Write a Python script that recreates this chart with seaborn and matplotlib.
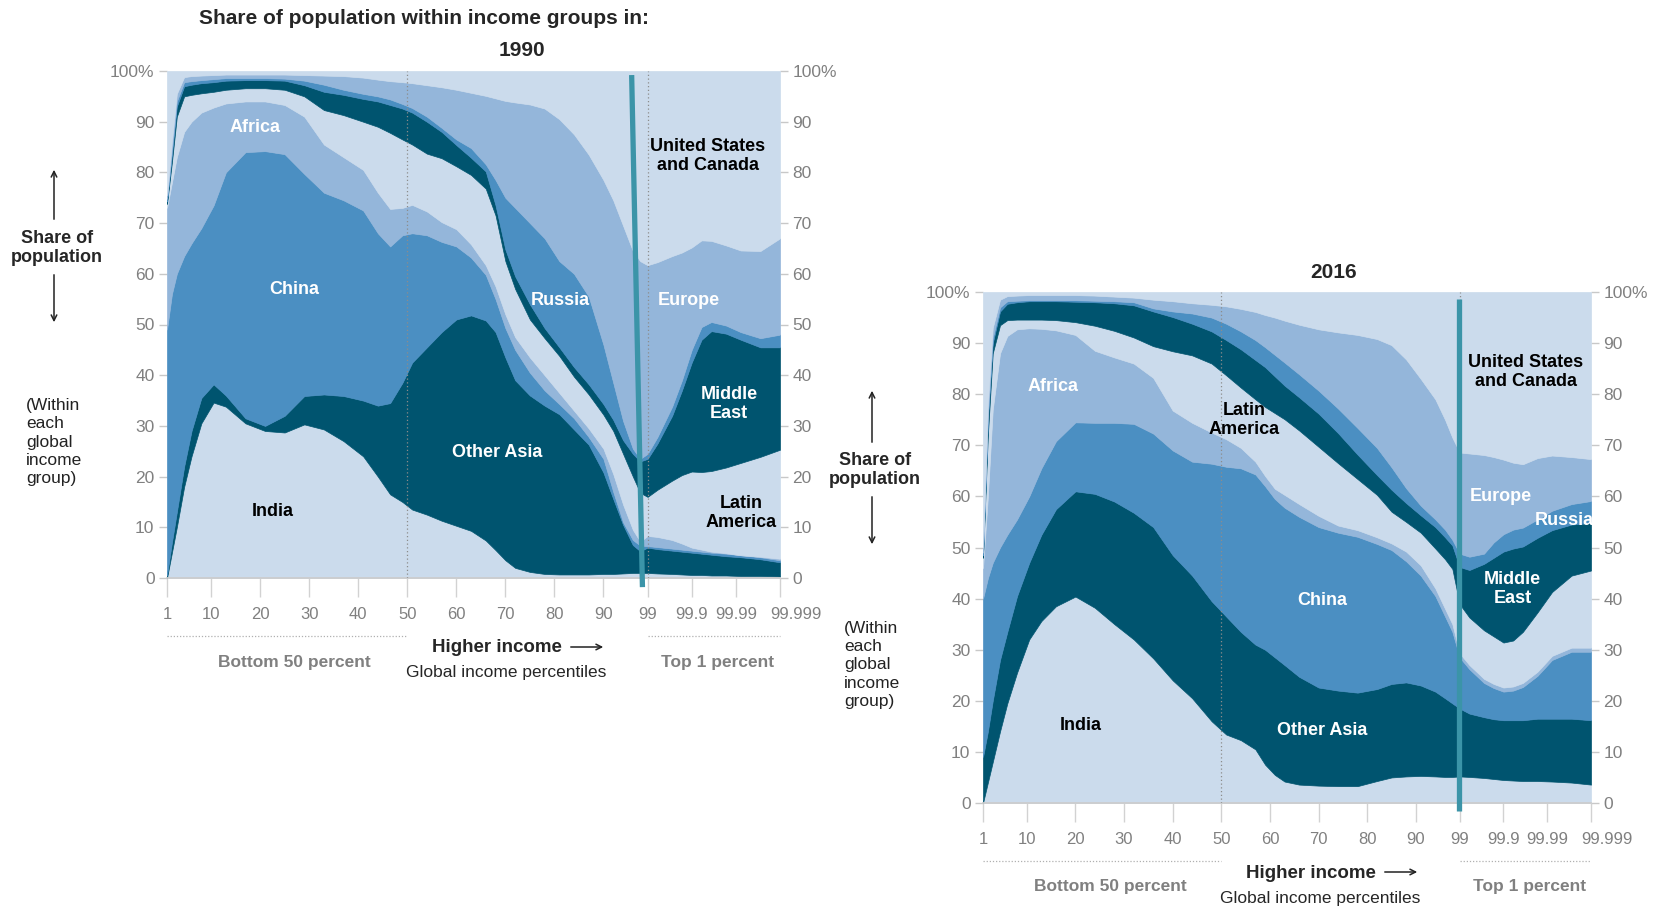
import matplotlib
matplotlib.use("Agg")
import matplotlib.pyplot as plt
import matplotlib.transforms as mtransforms
import seaborn as sns

sns.set_theme(style="white")
plt.rcParams['font.family'] = ['Liberation Sans Narrow', 'Liberation Sans', 'DejaVu Sans']

W, H = 1657, 910

# x axis: percentiles 1..99, then the top 1% is split again in tenths:
# 99.1..99.9 -> 100..108, 99.91..99.99 -> 109..117, 99.991..99.999 -> 118..126
tick_pos = [1, 10, 20, 30, 40, 50, 60, 70, 80, 90, 99, 108, 117, 126]
tick_labels = ['1', '10', '20', '30', '40', '50', '60', '70', '80', '90',
               '99', '99.9', '99.99', '99.999']

regions = ['India', 'Other Asia', 'China', 'Africa', 'Latin America',
           'Middle East', 'Russia', 'Europe', 'United States and Canada']
light, mid_light, mid, dark = '#cbdbec', '#94b6da', '#4b8fc2', '#00546f'
region_colors = [light, dark, mid, mid_light, light, dark, mid, mid_light, light]

# 1990 - top edge of each band (cumulative share of population, %)
x_1990 = [1, 2, 3, 4.5, 6, 8, 10.5, 13, 17, 21,
          25, 29, 33, 37, 41, 44, 46.5, 49, 51, 54,
          57, 60, 63, 66, 68, 70, 72, 75, 78, 81,
          84, 87, 90, 92, 94, 96, 97.5,
          99, 101, 104, 106, 108, 110, 112, 115, 118, 122, 126]
india_1990 = [0, 5, 10, 18, 24, 30.5, 34.6, 33.8, 30.5, 29,
              28.7, 30.3, 29.3, 27, 24, 20, 16.5, 15, 13.5, 12.5,
              11.3, 10.3, 9.3, 7.4, 5.5, 3.5, 2, 1.2, 0.8, 0.7,
              0.7, 0.7, 0.8, 0.8, 0.9, 1.0, 1.0,
              1.0, 0.9, 0.8, 0.7, 0.6, 0.6, 0.5, 0.5, 0.4, 0.4, 0.3]
other_asia_1990 = [0.5, 7, 13, 22, 29, 35.5, 38.2, 36, 31.5, 30,
                   32, 35.9, 36.2, 35.9, 35, 34, 34.5, 38.5, 42.5, 45.5,
                   48.5, 51, 51.8, 50.8, 48.5, 43.5, 39, 36, 34, 32.3,
                   29.3, 26.3, 20.8, 15.6, 10.5, 6.5, 5.3,
                   6.0, 5.7, 5.4, 5.2, 5.0, 4.8, 4.6, 4.3, 4.1, 3.7, 3.1]
china_1990 = [49, 56, 60, 63.5, 66, 69, 73.5, 80, 84, 84.2,
              83.6, 79.7, 76, 74.5, 72.5, 68, 65.4, 67.6, 68, 67.6,
              66.3, 65.4, 63.2, 59.8, 55, 49.3, 45, 40.5, 37, 34.3,
              31.5, 27.8, 23.5, 17, 11, 7.5, 6.4,
              6.3, 6.1, 5.8, 5.6, 5.4, 5.2, 5.0, 4.8, 4.5, 4.1, 3.5]
africa_1990 = [73, 78, 83, 88, 90, 91.8, 92.8, 93.6, 94, 94,
               93.3, 91, 85.5, 83, 80.5, 76, 72.8, 73, 73.6, 72.3,
               70.2, 68.8, 65.8, 61.7, 57.5, 52, 47.5, 43.5, 40, 36.5,
               33, 29.5, 25.5, 20.5, 14.5, 9.5, 7.2,
               8.3, 8.1, 7.5, 6.8, 6.0, 5.6, 5.2, 4.9, 4.5, 4.2, 3.8]
latin_america_1990 = [73.8, 82, 91, 95, 95.3, 95.6, 95.9, 96.3, 96.6, 96.6,
                      96.3, 95, 92.3, 91.3, 90, 89, 87.8, 86.5, 85.5, 83.7,
                      82.8, 81.2, 79.5, 76.8, 71.5, 62.5, 57, 51, 47.3, 43.8,
                      39.7, 36.2, 32.2, 29, 24.5, 20, 16.8,
                      16, 17.4, 19.2, 20.3, 21, 20.9, 21.1, 21.8, 22.7, 23.9, 25.3]
middle_east_1990 = [74.3, 83.5, 93, 97, 97.3, 97.6, 97.8, 98.1, 98.2, 98.2,
                    98.1, 97.2, 95.9, 95.3, 94.5, 94, 93.3, 92.6, 91.8, 90,
                    88, 85.4, 82.9, 80.2, 73.5, 64.8, 59.5, 54, 49.3, 45.5,
                    41.6, 38.2, 34.3, 31.2, 27.2, 24.5, 23,
                    23.5, 26.5, 32, 37, 42.5, 47, 48.7, 48.2, 47, 45.5, 45.5]
russia_1990 = [74.8, 84.5, 94, 97.8, 98, 98.2, 98.4, 98.6, 98.6, 98.6,
               98.5, 98.1, 97.3, 96.3, 95.5, 95, 94.4, 93.5, 92.7, 91,
               88.8, 86.5, 84.8, 81.6, 78.5, 75, 73, 70, 67, 62.5,
               60, 55.5, 46, 38.5, 31, 25.5, 23.5,
               24.5, 27.8, 33.8, 39, 45, 49.5, 50.5, 49.8, 48.5, 47.3, 48]
europe_1990 = [75.5, 86, 95.5, 98.8, 99, 99.1, 99.2, 99.3, 99.3, 99.3,
               99.3, 99.2, 99.1, 99, 98.7, 98.3, 98, 97.8, 97.6, 97.2,
               96.8, 96.3, 95.7, 95.1, 94.6, 94.1, 93.8, 93.4, 92.6, 90.5,
               87.5, 83.5, 78.5, 74.5, 69.5, 64.5, 62.5,
               61.7, 62.3, 63.5, 64.2, 65.2, 66.6, 66.5, 65.6, 64.6, 64.5, 67]
us_canada_1990 = [100] * len(x_1990)

# 2016
x_2016 = [1, 2, 3, 4.5, 6, 8, 10.5, 13, 16, 20,
          24, 28, 32, 36, 40, 44, 48, 51, 54, 57,
          59, 61, 63, 66, 70, 74, 78, 82, 85, 88,
          91, 94, 96, 97.5,
          99, 101, 104, 106, 108, 110, 112, 115, 118, 122, 126]
india_2016 = [0, 4, 8, 14, 19.5, 25.5, 32, 35.6, 38.5, 40.4,
              38.2, 35, 32, 28.3, 24, 20.5, 16, 13.4, 12.3, 10.5,
              7.5, 5.5, 4.2, 3.6, 3.4, 3.3, 3.3, 4.3, 5.0, 5.2,
              5.3, 5.2, 5.1, 5.1,
              5.2, 5.1, 4.9, 4.7, 4.5, 4.4, 4.3, 4.3, 4.2, 4.0, 3.6]
other_asia_2016 = [9, 14, 20, 28, 33.5, 40.5, 47, 52.5, 57.5, 61,
                   60.5, 59, 56.8, 54, 48.5, 44.5, 39.5, 36.5, 33.5, 31,
                   30, 28.5, 27, 24.7, 22.6, 22, 21.6, 22.3, 23.3, 23.6,
                   23, 21.8, 20.5, 19.5,
                   18.5, 17.5, 16.8, 16.4, 16.2, 16.2, 16.2, 16.5, 16.5, 16.5, 16.2]
china_2016 = [40, 44, 47, 50, 52.5, 55.5, 60, 65.5, 70.8, 74.5,
              74.4, 74.4, 74.2, 72.3, 69, 66.8, 66.4, 65.8, 65.5, 64.3,
              62, 59.5, 57.8, 56, 54, 52.9, 52.1, 50.7, 49.5, 47.3,
              44.5, 40.5, 36.5, 33.5,
              28.5, 26.2, 23.5, 22.5, 21.8, 22, 22.7, 24.9, 28, 29.6, 29.6]
africa_2016 = [46, 60, 77, 88, 91.4, 92.7, 92.9, 92.8, 92.5, 91.6,
               88.5, 87.2, 86, 83.2, 76.8, 74.4, 72.5, 71.2, 69.5, 66.8,
               64, 61.5, 60.3, 58.5, 56.2, 54.3, 53.4, 52, 50.8, 49.2,
               46.5, 42, 38, 35,
               29.3, 27, 24.3, 23.3, 22.6, 22.8, 23.5, 25.7, 28.8, 30.4, 30.4]
latin_america_2016 = [48, 72, 88, 93.5, 94.5, 94.6, 94.6, 94.6, 94.5, 94.1,
                      93.4, 92.4, 91.1, 89.4, 88.4, 87.6, 86, 83.7, 81.3, 79,
                      77.5, 76.3, 75.1, 72.9, 69.7, 66.5, 63.4, 60.3, 57, 55,
                      52.9, 49.8, 47.7, 45.8,
                      38.9, 36.3, 33.8, 32.6, 31.4, 31.8, 33.5, 37.3, 41.3, 44.5, 45.5]
middle_east_2016 = [48.5, 75, 90, 96.2, 97.7, 98, 98.2, 98.2, 98.2, 98.1,
                    98, 97.8, 97.4, 96.2, 95.1, 93.8, 92.3, 90.6, 88.8, 86.7,
                    85.3, 83.5, 81.7, 79.4, 76.2, 72.4, 68.2, 64.2, 61.3, 58.7,
                    56.3, 54, 52, 50.4,
                    46.2, 45.6, 46.8, 48, 49.2, 49.8, 50.2, 51.9, 53.4, 54.5, 54.8]
russia_2016 = [49, 76, 91, 97, 98.2, 98.3, 98.4, 98.4, 98.4, 98.4,
               98.3, 98.2, 98, 96.8, 96.2, 95.8, 95, 93.8, 92.3, 90.6,
               89.2, 87.7, 86.2, 83.9, 80.7, 77.2, 73.4, 69.5, 65.7, 61.6,
               58.2, 55.5, 53.5, 51.5,
               48.8, 48.2, 48.8, 51, 52.6, 53.5, 53.9, 55.5, 57.2, 58.5, 59.1]
europe_2016 = [50, 78, 93, 98.5, 99.2, 99.3, 99.4, 99.4, 99.4, 99.4,
               99.3, 99.1, 98.9, 98.5, 98.2, 97.8, 97.5, 97.2, 96.7, 96.1,
               95.5, 95, 94.4, 93.6, 92.7, 92.1, 91.6, 90.8, 89.6, 86.8,
               83, 79, 75, 71.5,
               68.6, 68.4, 68.1, 67.7, 67.2, 66.6, 66.3, 67.5, 68, 67.7, 67.3]
us_canada_2016 = [100] * len(x_2016)

tops_1990 = [india_1990, other_asia_1990, china_1990, africa_1990, latin_america_1990,
             middle_east_1990, russia_1990, europe_1990, us_canada_1990]
tops_2016 = [india_2016, other_asia_2016, china_2016, africa_2016, latin_america_2016,
             middle_east_2016, russia_2016, europe_2016, us_canada_2016]

# region names written on the chart: (text, x, y, colour)
names_1990 = [('Africa', 19, 88.8, 'white'), ('China', 27, 56.9, 'white'),
              ('India', 22.6, 13.2, 'black'), ('Other Asia', 68.3, 24.8, 'white'),
              ('Russia', 81.3, 54.7, 'white'), ('Europe', 107.4, 54.7, 'white'),
              ('United States\nand Canada', 111.3, 83.3, 'black'),
              ('Middle\nEast', 115.6, 34.3, 'white'), ('Latin\nAmerica', 118, 12.8, 'black')]
names_2016 = [('Africa', 15.5, 81.5, 'white'), ('Latin\nAmerica', 54.7, 74.9, 'black'),
              ('China', 70.7, 39.6, 'white'), ('India', 21.1, 15.1, 'black'),
              ('Other Asia', 70.7, 14.2, 'white'), ('United States\nand Canada', 112.6, 84.4, 'black'),
              ('Europe', 107.5, 60, 'white'), ('Russia', 120.6, 55.3, 'white'),
              ('Middle\nEast', 109.9, 41.8, 'white')]

fig = plt.figure(figsize=(W / 100, H / 100), dpi=100)
ax1 = fig.add_axes([167 / W, 1 - 578 / H, 613 / W, 507 / H])
ax2 = fig.add_axes([983 / W, 1 - 803 / H, 608 / W, 511 / H])


def draw_panel(ax, x, tops, names, teal):
    lower = [0] * len(x)
    for top, color in zip(tops, region_colors):
        ax.fill_between(x, lower, top, color=color, lw=0.5, edgecolor=color, zorder=1)
        lower = top
    for xv in (50, 99):
        ax.axvline(xv, color='#8c8c8c', ls=(0, (1, 2)), lw=0.9, zorder=3)
    ax.plot(teal[0], teal[1], color='#3b94a8', lw=3.8, solid_capstyle='butt',
            clip_on=False, zorder=5)
    for txt, tx, ty, c in names:
        ax.text(tx, ty, txt, ha='center', va='center', color=c, fontsize=13,
                fontweight='bold', linespacing=1.15, zorder=6)
    ax.set_xlim(1, 126)
    ax.set_ylim(0, 100)
    ax.set_xticks(tick_pos)
    ax.set_xticklabels(tick_labels)
    ax.set_yticks(range(0, 101, 10))
    ax.set_yticklabels([str(v) for v in range(0, 100, 10)] + ['100%'])
    ax.tick_params(axis='x', bottom=True, length=14, width=1, color='#d2d2d2',
                   labelcolor='#808080', labelsize=12, pad=7)
    ax.tick_params(axis='y', left=True, right=True, labelleft=True, labelright=True,
                   length=6, width=1, color='#c8c8c8', labelcolor='#808080',
                   labelsize=12.5, pad=3)
    # the last label sits a little right of its tick, as in the original
    last = ax.get_xticklabels()[-1]
    last.set_transform(last.get_transform() +
                       mtransforms.ScaledTranslation(16 / 100, 0, fig.dpi_scale_trans))
    sns.despine(ax=ax, left=True, right=True, top=True)
    ax.spines['bottom'].set_color('#cccccc')
    ax.grid(False)

    # dotted brackets under the axis
    tr = mtransforms.blended_transform_factory(ax.transData, ax.transAxes)
    for x0, x1 in ((1, 50), (99, 126)):
        ax.plot([x0, x1], [-0.114, -0.114], transform=tr, color='#b0b0b0',
                ls=(0, (1, 1.5)), lw=0.9, clip_on=False)


draw_panel(ax1, x_1990, tops_1990, names_1990, ([95.75, 97.95], [99.2, -1.8]))
draw_panel(ax2, x_2016, tops_2016, names_2016, ([98.9, 98.9], [98.7, -1.6]))


def ftext(x, y, s, **kw):
    fig.text(x / W, 1 - y / H, s, **kw)


def farrow(x, y0, y1):
    fig.add_artist(matplotlib.patches.FancyArrowPatch(
        (x / W, 1 - y0 / H), (x / W, 1 - y1 / H), transform=fig.transFigure,
        arrowstyle='->', mutation_scale=10, lw=1.1, color='#222222'))


ftext(424, 19, 'Share of population within income groups in:', ha='center', va='center',
      fontsize=15, fontweight='bold')
ftext(522, 51, '1990', ha='center', va='center', fontsize=15, fontweight='bold')
ftext(1334, 272, '2016', ha='center', va='center', fontsize=15, fontweight='bold')

# y axis notes
for cx, cy, up0, up1, dn0, dn1, wx, wy in ((57, 248, 222, 167, 272, 325, 26, 442),
                                           (875, 470, 445, 388, 494, 547, 844, 665)):
    ftext(cx, cy, 'Share of\npopulation', ha='center', va='center', fontsize=13,
          fontweight='bold', linespacing=1.2)
    farrow(cx - 3, up0, up1)
    farrow(cx - 3, dn0, dn1)
    ftext(wx, wy, '(Within\neach\nglobal\nincome\ngroup)', ha='left', va='center',
          fontsize=12.5, linespacing=1.28, color='#222222')

# x axis notes
for b50, hi, hx0, gl, t1, yb, yh, yg in ((294, 500, 568, 506, 718, 662, 648, 672),
                                         (1110, 1315, 1382, 1320, 1530, 887, 873, 898)):
    ftext(b50, yb, 'Bottom 50 percent', ha='center', va='center', fontsize=12.5,
          fontweight='bold', color='#808080')
    ftext(t1, yb, 'Top 1 percent', ha='center', va='center', fontsize=12.5,
          fontweight='bold', color='#808080')
    ftext(hx0 - 6, yh, 'Higher income', ha='right', va='center', fontsize=13.5,
          fontweight='bold')
    fig.add_artist(matplotlib.patches.FancyArrowPatch(
        (hx0 / W, 1 - (yh - 1) / H), ((hx0 + 38) / W, 1 - (yh - 1) / H),
        transform=fig.transFigure, arrowstyle='->', mutation_scale=10, lw=1.1,
        color='#222222'))
    ftext(gl, yg, 'Global income percentiles', ha='center', va='center', fontsize=12.5)

fig.savefig('out.png', dpi=100)
